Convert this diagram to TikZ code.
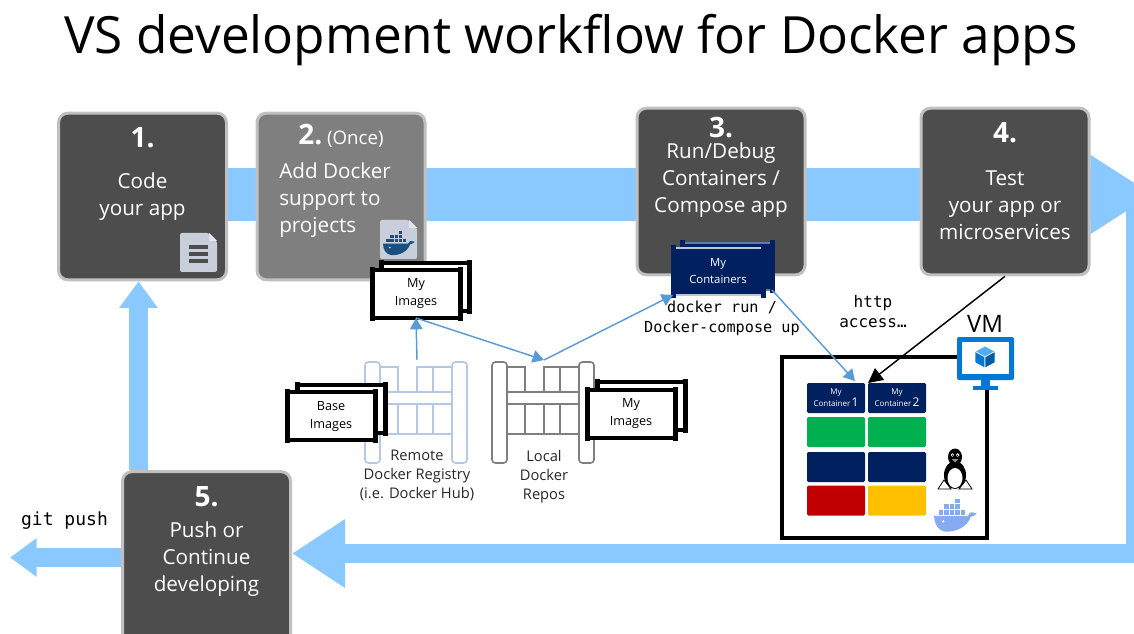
\documentclass[tikz,border=0pt]{standalone}
\usepackage{fontspec}
\setmainfont{Open Sans}
\setmonofont{DejaVu Sans Mono}
\usetikzlibrary{arrows.meta, positioning, calc, backgrounds}

\definecolor{flowblue}{RGB}{138,201,255}
\definecolor{stepdark}{RGB}{77,77,77}
\definecolor{stepgray}{RGB}{127,127,127}
\definecolor{stepedge}{RGB}{192,192,192}
\definecolor{linkblue}{RGB}{91,155,213}
\definecolor{navy}{RGB}{0,32,96}
\definecolor{regblue}{RGB}{180,199,231}
\definecolor{repogray}{RGB}{127,127,127}
\definecolor{vmblue}{RGB}{0,120,212}
\definecolor{cubetop}{RGB}{80,174,240}
\definecolor{cubeside}{RGB}{0,90,158}
\definecolor{docicon}{RGB}{200,207,219}
\definecolor{boxgreen}{RGB}{0,176,80}
\definecolor{boxred}{RGB}{192,0,0}
\definecolor{boxyellow}{RGB}{255,192,0}
\definecolor{whaledark}{RGB}{27,79,126}
\definecolor{whalelight}{RGB}{135,170,240}

\tikzset{
  stepbox/.style={draw=stepedge, line width=2.25pt, rounded corners=7pt, fill=stepdark,
    minimum width=126pt, minimum height=125pt},
  stepnum/.style={text=white, font=\fontsize{21}{25}\selectfont\bfseries, anchor=base, inner sep=0},
  steptext/.style={text=white, font=\fontsize{15.5}{20.25}\selectfont, align=center, anchor=north, inner sep=0},
  mainband/.style={flowblue, line width=39.75pt, -{Triangle[width=56pt,length=47pt]}},
  returnband/.style={flowblue, line width=14.25pt, -{Triangle[width=48.75pt,length=39.75pt]}},
  pushband/.style={flowblue, line width=14.25pt, -{Triangle[width=27.75pt,length=20pt]}},
  stackbox/.style={draw=black, line width=3pt, fill=white, minimum width=66pt, minimum height=36pt,
    inner sep=0, outer sep=0, font=\fontsize{9.5}{13.5}\selectfont, align=center},
  contbox/.style={fill=navy, draw=navy!60!white, line width=0.8pt, minimum width=67.5pt, minimum height=35.25pt,
    inner sep=0, outer sep=0, text=white, align=center, font=\fontsize{8.5}{12.75}\selectfont},
  ear/.style={line width=3.75pt},
  reglabel/.style={font=\fontsize{11}{14.25}\selectfont, align=center, anchor=north, inner sep=0, text=black!85},
  codelabel/.style={font=\ttfamily\fontsize{11.4}{15}\selectfont, align=center, anchor=north, inner sep=0},
  linkarrow/.style={draw=linkblue, line width=1.1pt, -{Triangle[length=8.5pt,width=9.5pt]}},
  vmbox/.style={draw=black, line width=3pt, minimum width=153.75pt, minimum height=135.75pt, outer sep=0},
  cbar/.style={minimum width=43.5pt, minimum height=22.5pt, inner sep=0, outer sep=0, rounded corners=1pt,
    text=white, align=center, font=\fontsize{6}{9}\selectfont},
  % storage rack, origin at its top left corner
  rack/.pic={
    \draw[rounded corners=2.5] (0,0) rectangle (15,101);
    \draw[rounded corners=2.5] (87,0) rectangle (102,101);
    \draw (15,5) -- (33,5) -- (33,30);
    \draw (52,30) -- (52,5) -- (87,5);
    \draw (68,5) -- (68,30);
    \draw (15,30) -- (87,30);
    \draw (15,42) rectangle (87,72);
    \foreach \d in {33,52,68} \draw (\d,42) -- (\d,72);
    \coordinate (-top) at (52,-2);
  },
  % whale with its containers
  whale/.pic={
    \fill (0,14) -- (37,14) .. controls (38,10) and (42,9) .. (44,11) .. controls (46,10) and (47,11) .. (46,12)
      .. controls (44,14) and (42,15) .. (40,15) .. controls (36,26) and (24,32) .. (12,31)
      .. controls (4,30) and (0,22) .. (0,14) -- cycle;
    \foreach \x in {5,11,17,23,29} \fill (\x,7.5) rectangle ++(5,5);
    \foreach \x in {11,17,23} \fill (\x,1.5) rectangle ++(5,5);
    \fill (23,-4.5) rectangle ++(5,5);
    \fill[white] (10,20) circle (1.3);
  }
}

\begin{document}
\begin{tikzpicture}[x=0.75pt,y=0.75pt,yscale=-1,xscale=1]
\useasboundingbox (0,0) rectangle (1134,634);

% Title
\node[font=\fontsize{38.5}{44}\selectfont, anchor=base, inner sep=0] (title) at (571,54) {VS development workflow for Docker apps};

% Steps
\node[stepbox] (s1) at (142.5,196.5) {};
\node[stepbox, fill=stepgray] (s2) at (341,196.5) {};
\node[stepbox] (s3) at (721,191.5) {};
\node[stepbox] (s4) at (1005,191.5) {};
\node[stepbox, minimum height=134pt] (s5) at (206.5,561) {};

\node[stepnum] (n1) at (142.5,148) {1.};
\node[steptext] (t1) at (142.5,173) {Code\\your app};
\node[stepnum] (n2) at (341,145) {2.\,{\fontsize{14}{16}\selectfont\mdseries(Once)}};
\node[steptext, align=left, anchor=north west] (t2) at (279,163) {Add Docker\\support to\\projects};
\node[stepnum] (n3) at (721,138) {3.};
\node[steptext] (t3) at (721,143) {Run/Debug\\Containers /\\Compose app};
\node[stepnum] (n4) at (1005,143) {4.};
\node[steptext] (t4) at (1005,170) {Test\\your app or\\microservices};
\node[stepnum] (n5) at (206.5,506) {5.};
\node[steptext] (t5) at (206.5,522) {Push or\\Continue\\developing};

% Flow bands behind the steps
\coordinate (flow-end) at (1153,194.5);
\coordinate (turn) at (1135.5,200);
\coordinate (ret) at (1135.5,553.5);
\coordinate (push-end) at (10,557.5);
\coordinate (lift) at (138.5,400);
\begin{scope}[on background layer]
  \clip (0,0) rectangle (1134,634);
  \draw[mainband] (s1.center |- flow-end) -- (flow-end);
  \draw[returnband] (turn) -- (ret) -- (s5.east |- ret);
  \draw[pushband] (s5.west |- push-end) -- (push-end);
  \draw[pushband] (lift |- s5.north) -- (lift |- s1.south);
\end{scope}

% Document icon
\fill[docicon, rounded corners=1.5] (180,233) -- (209,233) -- (217,241) -- (217,272) -- (180,272) -- cycle;
\fill[docicon!55!white] (209,233) -- (209,241) -- (217,241) -- cycle;
\foreach \y in {247,254,261} \draw[stepdark, line width=3pt] (189,\y) -- (208,\y);
% Dockerfile icon
\fill[docicon, rounded corners=1.5] (380,220) -- (409,220) -- (417,228) -- (417,259) -- (380,259) -- cycle;
\fill[docicon!55!white] (409,220) -- (409,228) -- (417,228) -- cycle;
\pic[whaledark, yscale=-1, scale=0.68] (dockerfile) at (383,234) {whale};

% Registries
\pic[regblue, line width=1.2pt, yscale=-1] (remote) at (365,362) {rack};
\pic[repogray, line width=1.2pt, yscale=-1] (local) at (492,362) {rack};
\node[reglabel] (remote-label) at (417,450) {Remote\\Docker Registry\\(i.e. Docker Hub)};
\node[reglabel] (local-label) at (544,450) {Local\\Docker\\Repos};

% Image and container stacks
\node[stackbox] (img1-back) at (425,287.5) {};
\node[stackbox] (base-back) at (341,408.5) {};
\node[stackbox] (img2-back) at (641,405.5) {};
\node[contbox] (cont-back) at (727,266.5) {};
\foreach \n/\c in {img1-back/black, base-back/black, img2-back/black, cont-back/navy} {
  \draw[ear, \c] ($(\n.north west)+(0,-3)$) -- ($(\n.south west)+(0,3)$);
  \draw[ear, \c] ($(\n.north east)+(0,-3)$) -- ($(\n.south east)+(0,3)$);
}
\node[stackbox] (img1) at (416,294) {My\\Images};
\node[stackbox] (base) at (331,416) {Base\\Images};
\node[stackbox] (img2) at (631,413.5) {My\\Images};
\node[contbox, draw=white!75!navy] (cont) at (718,271.5) {My\\Containers};
\foreach \n/\c in {img1/black, base/black, img2/black, cont/navy} {
  \draw[ear, \c] ($(\n.north west)+(0,-3)$) -- ($(\n.south west)+(0,3)$);
  \draw[ear, \c] ($(\n.north east)+(0,-3)$) -- ($(\n.south east)+(0,3)$);
}

% VM host
\node[vmbox] (vm) at (884.5,447.5) {};
\node[cbar, fill=navy] (c1) at (836,398) {My\\Container\,{\fontsize{9}{9}\selectfont 1}};
\node[cbar, fill=navy] (c2) at (897,398) {My\\Container\,{\fontsize{9}{9}\selectfont 2}};
\node[cbar, fill=boxgreen] (g1) at (836,432) {};
\node[cbar, fill=boxgreen] (g2) at (897,432) {};
\node[cbar, fill=navy] (b1) at (836,467) {};
\node[cbar, fill=navy] (b2) at (897,467) {};
\node[cbar, fill=boxred] (r1) at (836,500.5) {};
\node[cbar, fill=boxyellow] (y2) at (897,500.5) {};

% Monitor
\fill[vmblue, rounded corners=1.5] (957,337) rectangle (1014,380);
\fill[white] (962,342) rectangle (1009,374);
\fill[vmblue] (981,380) rectangle (990,386);
\fill[vmblue] (973,386) rectangle (998,390);
\filldraw[fill=cubetop, draw=white, line width=0.4pt] (985,346) -- (995,351.5) -- (985,357) -- (975,351.5) -- cycle;
\filldraw[fill=vmblue, draw=white, line width=0.4pt] (975,351.5) -- (985,357) -- (985,368) -- (975,362.5) -- cycle;
\filldraw[fill=cubeside, draw=white, line width=0.4pt] (985,357) -- (995,351.5) -- (995,362.5) -- (985,368) -- cycle;
\node[font=\fontsize{18}{20}\selectfont, anchor=base, inner sep=0] (vm-label) at (985,332) {VM};

% Penguin
\fill[black] (955,475) ellipse (11 and 14);
\fill[black] (955,457) ellipse (7 and 8.5);
\fill[white] (955,478) ellipse (7.5 and 10);
\fill[white] (952.3,455) circle (1.8);
\fill[white] (957.7,455) circle (1.8);
\fill[black] (952.6,455.3) circle (0.8);
\fill[black] (957.4,455.3) circle (0.8);
\fill[black!45] (951.5,459) -- (958.5,459) -- (955,462.5) -- cycle;
\draw[black, fill=white, line width=0.6pt] (938,489) -- (944,480) -- (951,489) -- cycle;
\draw[black, fill=white, line width=0.6pt] (959,489) -- (966,480) -- (972,489) -- cycle;
\pic[whalelight, yscale=-1, scale=0.92] (vm-whale) at (934,503) {whale};

% Labels
\node[codelabel] (run-label) at (722,300.5) {docker run /\\Docker-compose up};
\node[codelabel, font=\ttfamily\fontsize{12}{15}\selectfont] (http-label) at (873,295) {http\\access…};
\node[font=\ttfamily\fontsize{13.5}{16}\selectfont, anchor=base, inner sep=0] (push-label) at (64.5,525) {git push};

% Links
\draw[linkarrow] (remote-top) -- (img1.south);
\draw[linkarrow] (img1.south) -- (local-top);
\draw[linkarrow] (local-top) -- (cont.south west);
\draw[linkarrow] (cont-back.south east) -- ($(c1.north east)+(-10,-2)$);
\draw[black, line width=1.1pt, -{Triangle[length=11pt,width=11pt]}] (s4.south) -- (c2.north west);

\end{tikzpicture}
\end{document}
